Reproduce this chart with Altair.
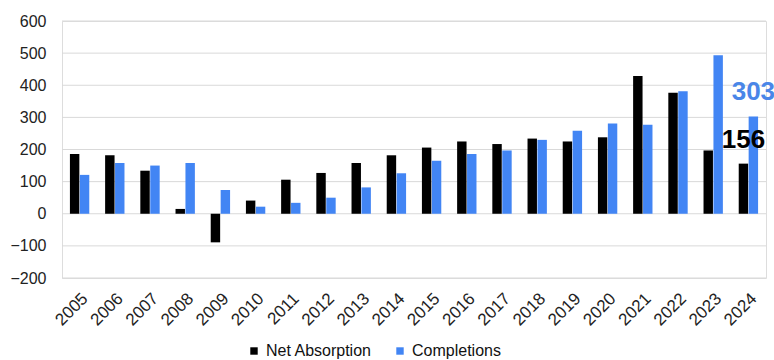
import altair as alt
import pandas as pd

years = [str(y) for y in range(2005, 2025)]
net_absorption = [186, 182, 134, 15, -89, 41, 106, 127, 158, 182,
                  206, 225, 217, 234, 225, 238, 429, 377, 197, 156]
completions = [121, 158, 150, 158, 74, 22, 34, 50, 82, 126,
               165, 186, 197, 230, 258, 281, 277, 381, 493, 303]
series_names = ["Net Absorption", "Completions"]
series_colors = ["#000000", "#4285f4"]
label_colors = ["#000000", "#4a86e8"]
y_ticks = [-200, -100, 0, 100, 200, 300, 400, 500, 600]

rows = []
for i, yr in enumerate(years):
    rows.append({"year": yr, "series": series_names[0], "value": net_absorption[i]})
    rows.append({"year": yr, "series": series_names[1], "value": completions[i]})
df = pd.DataFrame(rows)
grid_df = pd.DataFrame({"value": y_ticks})

# latest-year values called out above their bars
latest = df[df["year"] == years[-1]].copy()

FONT = "Liberation Sans"

x_enc = alt.X(
    "year:N",
    sort=years,
    title=None,
    scale=alt.Scale(paddingInner=0.45, paddingOuter=0.225),
    axis=alt.Axis(labelAngle=-45, labelFontSize=17, labelColor="#222222",
                  labelFont=FONT, domain=False, ticks=False, labelPadding=12,
                  labelOverlap=False, grid=False),
)
xoff = alt.XOffset("series:N", sort=series_names,
                   scale=alt.Scale(paddingInner=0.05))
y_enc = alt.Y(
    "value:Q",
    title=None,
    scale=alt.Scale(domain=[-200, 600], nice=False),
    axis=alt.Axis(values=y_ticks, labelFontSize=16,
                  labelColor="#222222", labelFont=FONT, domain=False,
                  ticks=False, grid=False, labelPadding=16,
                  labelOverlap=False),
)

# horizontal gridlines at each y tick
grid = alt.Chart(grid_df).mark_rule(color="#d9d9d9", strokeWidth=1).encode(
    y=y_enc,
)

bars = alt.Chart(df).mark_bar().encode(
    x=x_enc,
    xOffset=xoff,
    y=y_enc,
    color=alt.Color(
        "series:N",
        sort=series_names,
        scale=alt.Scale(domain=series_names, range=series_colors),
        legend=alt.Legend(
            title=None, orient="none", legendX=184, legendY=322,
            direction="horizontal", symbolType="square", symbolSize=55,
            symbolStrokeWidth=0, labelFontSize=16, labelFont=FONT,
            labelColor="#111111", columnPadding=20, symbolOffset=0,
            labelOffset=4,
        ),
    ),
)

labels = alt.Chart(latest).mark_text(
    fontSize=26, fontWeight="bold", font=FONT, baseline="middle",
    align="center", dy=-24,
).encode(
    x=x_enc,
    xOffset=xoff,
    y=y_enc,
    text=alt.Text("value:Q"),
    color=alt.Color("series:N", sort=series_names,
                    scale=alt.Scale(domain=series_names, range=label_colors),
                    legend=None),
)

chart = (
    alt.layer(grid, bars, labels)
    .resolve_scale(color="independent")
    .properties(
        width=704, height=257,
        autosize=alt.AutoSizeParams(type="none"),
        padding={"left": 62, "top": 21, "right": 8, "bottom": 82},
    )
    .configure_view(stroke="transparent", strokeWidth=0)
    .configure_axis(domain=False, grid=False)
    .configure(background="white")
)

chart.save("out.html", embed_options={"renderer": "svg", "actions": False})
